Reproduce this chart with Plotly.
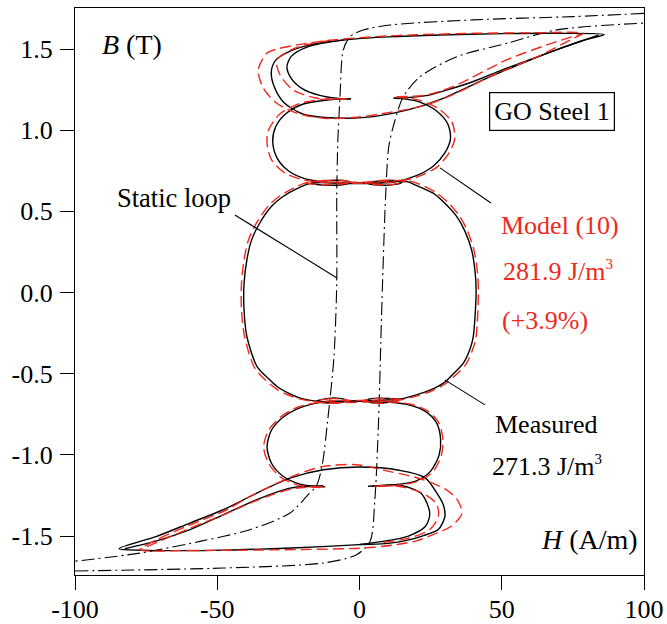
import plotly.graph_objects as go

# ---------------- data (H in A/m, B in T) ----------------
# Static loop (dash-dot)
static_desc_H = [100, 75, 40, 10.7, 1.3, -3.3, -5.7, -6.9, -7.6, -8.0, -8.0, -9.0, -11.2, -13.0, -15.0, -18.6, -24.4, -38.5, -56.1, -77.2, -100]
static_desc_B = [1.72, 1.70, 1.68, 1.648, 1.617, 1.577, 1.494, 1.186, 0.94, 0.60, 0.06, -0.40, -0.79, -1.05, -1.184, -1.256, -1.358, -1.461, -1.533, -1.605, -1.655]
static_asc_H = [-100, -47.9, -12.7, -1.0, 3.7, 5.4, 6.7, 7.5, 8.1, 9.2, 10.3, 12.5, 15.4, 21.3, 34.2, 51.7, 69.3, 100]
static_asc_B = [-1.715, -1.697, -1.666, -1.615, -1.533, -1.276, -0.79, -0.30, 0.06, 0.60, 0.90, 1.063, 1.207, 1.33, 1.453, 1.535, 1.618, 1.66]

# Measured (black solid)
meas_top_outer_H = [86, 70, 50, 28, 10, -3, -15, -24, -29.5, -31, -30, -26.5, -20, -12, -4, 5, 17, 28, 46, 63, 78, 86]
meas_top_outer_B = [1.59, 1.597, 1.595, 1.587, 1.575, 1.56, 1.535, 1.49, 1.43, 1.36, 1.27, 1.17, 1.1, 1.078, 1.074, 1.084, 1.125, 1.187, 1.33, 1.453, 1.55, 1.59]
meas_top_inner_H = [-5, -18, -24, -25.5, -24, -20, -14, -8, -3]
meas_top_inner_B = [1.558, 1.515, 1.455, 1.39, 1.32, 1.255, 1.215, 1.197, 1.193]
meas_top_right_H = [12, 16, 24, 33, 40, 50, 58, 70, 84]
meas_top_right_B = [1.197, 1.2, 1.215, 1.26, 1.30, 1.37, 1.422, 1.5, 1.585]
meas_up_circ_H = [-3, -12, -20, -26, -29.5, -30.5, -29, -25, -19, -12, -4, 4, 12, 20, 26, 30, 32, 31, 27, 21, 15, 12]
meas_up_circ_B = [1.193, 1.185, 1.16, 1.1, 1.02, 0.93, 0.83, 0.75, 0.7, 0.68, 0.672, 0.672, 0.68, 0.72, 0.78, 0.86, 0.95, 1.04, 1.12, 1.175, 1.195, 1.197]
meas_center_H = [-17, -22, -27, -31, -35, -38, -39.6, -40.6, -40.6, -39.6, -36, -32, -29, -25, -20.9, -14, -5, 5, 14.2, 20, 25, 29.5, 33, 36.5, 39, 40, 41, 40.5, 39.4, 37, 34.2, 30, 25.9, 20, 16.6, 8, 0, -8, -17]
meas_center_B = [0.674, 0.64, 0.59, 0.53, 0.43, 0.32, 0.2, 0.05, -0.1, -0.27, -0.456, -0.53, -0.579, -0.62, -0.65, -0.671, -0.672, -0.665, -0.656, -0.63, -0.6, -0.558, -0.5, -0.435, -0.34, -0.27, 0.017, 0.15, 0.263, 0.38, 0.468, 0.55, 0.612, 0.66, 0.684, 0.68, 0.675, 0.675, 0.674]
meas_lo_circ_H = [3, 12, 20, 25, 28, 28.5, 27, 23, 17, 10, 3, -5, -13, -21, -27, -31, -32.5, -31, -27, -21, -15, -12]
meas_lo_circ_B = [-1.193, -1.185, -1.16, -1.1, -1.0, -0.9, -0.8, -0.73, -0.69, -0.675, -0.668, -0.668, -0.675, -0.71, -0.77, -0.85, -0.95, -1.05, -1.13, -1.18, -1.195, -1.197]
meas_bot_outer_H = [-84.5, -74, -52, -24, 0, 10, 17, 22, 27.7, 30, 29.5, 27.7, 23, 14, 0, -12.7, -24.4, -36.1, -47.9, -59.6, -71.3, -84.5]
meas_bot_outer_B = [-1.578, -1.588, -1.588, -1.574, -1.553, -1.545, -1.525, -1.5, -1.46, -1.38, -1.31, -1.25, -1.14, -1.095, -1.075, -1.092, -1.143, -1.235, -1.338, -1.42, -1.502, -1.578]
meas_bot_inner_H = [0, 8.2, 17.2, 23.2, 24.7, 21.7, 14.2, 4.5]
meas_bot_inner_B = [-1.552, -1.533, -1.50, -1.44, -1.36, -1.238, -1.187, -1.193]
meas_bot_left_H = [-12.7, -24.4, -36.1, -47.9, -59.6, -71.3, -82.5]
meas_bot_left_B = [-1.19, -1.205, -1.276, -1.369, -1.461, -1.53, -1.578]
meas_waist_ul_H = [-17, -12, -6, -3, -6, -12, -17]
meas_waist_ul_B = [0.672, 0.688, 0.69, 0.678, 0.664, 0.662, 0.672]
meas_waist_ur_H = [3, 7, 12, 15, 12, 7, 3]
meas_waist_ur_B = [0.672, 0.688, 0.69, 0.68, 0.665, 0.662, 0.672]
meas_waist_ll_H = [-15, -11, -7, -4.5, -7, -11, -15]
meas_waist_ll_B = [-0.668, -0.652, -0.652, -0.664, -0.678, -0.68, -0.668]
meas_waist_lr_H = [2, 5, 10, 14, 10, 5, 2]
meas_waist_lr_B = [-0.665, -0.652, -0.652, -0.66, -0.676, -0.68, -0.665]

# Model (10) (red dashed)
mod_top_outer_H = [78.7, 60, 40, 20, 4.9, -10, -18.6, -28, -32.6, -35.6, -33.8, -29.1, -22, -12.7, -1, 10.7, 22.4, 34.2, 47, 63.4, 75.2, 78.7]
mod_top_outer_B = [1.597, 1.6, 1.597, 1.588, 1.576, 1.555, 1.535, 1.505, 1.474, 1.371, 1.259, 1.166, 1.105, 1.074, 1.08, 1.11, 1.15, 1.23, 1.34, 1.46, 1.566, 1.597]
mod_top_inner_H = [-10, -22, -29.1, -27.9, -23.3, -15, -4.5]
mod_top_inner_B = [1.555, 1.51, 1.433, 1.34, 1.248, 1.197, 1.193]
mod_top_right_H = [13, 23.6, 34.2, 51.7, 69.3, 78]
mod_top_right_B = [1.207, 1.217, 1.279, 1.433, 1.546, 1.592]
mod_up_circ_H = [-4.5, -13, -21, -28, -32, -32.5, -31, -26.5, -20, -12, -4, 4, 12, 20, 27, 31.5, 33.5, 32.5, 28, 21, 13]
mod_up_circ_B = [1.195, 1.19, 1.165, 1.1, 1.0, 0.92, 0.82, 0.74, 0.695, 0.678, 0.674, 0.674, 0.682, 0.71, 0.77, 0.86, 0.95, 1.05, 1.13, 1.185, 1.205]
mod_center_H = [-18, -23, -28, -32, -36, -39, -40.6, -41.5, -41.5, -40.4, -37, -33, -29.5, -25.5, -21, -14, -5, 5, 14.2, 20.5, 25.5, 30, 34, 37.5, 40, 41, 41.8, 41.3, 40.2, 37.8, 35, 31, 26.5, 21, 17, 8, 0, -8, -18]
mod_center_B = [0.68, 0.645, 0.595, 0.535, 0.435, 0.325, 0.2, 0.05, -0.1, -0.27, -0.46, -0.54, -0.59, -0.628, -0.655, -0.676, -0.678, -0.672, -0.662, -0.635, -0.605, -0.565, -0.505, -0.44, -0.34, -0.27, 0.017, 0.15, 0.263, 0.385, 0.475, 0.557, 0.62, 0.668, 0.69, 0.686, 0.68, 0.68, 0.68]
mod_lo_circ_H = [5.2, 13, 21, 26, 28.8, 29.3, 27.8, 24, 18, 10, 3, -5, -13, -22, -28, -32, -33.7, -32, -28, -22, -15, -12]
mod_lo_circ_B = [-1.193, -1.188, -1.16, -1.1, -1.0, -0.9, -0.8, -0.73, -0.688, -0.672, -0.665, -0.665, -0.672, -0.708, -0.77, -0.85, -0.95, -1.05, -1.135, -1.185, -1.2, -1.2]
mod_bot_outer_H = [-77.2, -60, -30, 0, 12, 20, 26, 32.2, 36, 34.5, 30.7, 22, 10, -1, -12.7, -22.1, -31.5, -39.6, -46.7, -60.7, -71.3, -77.2]
mod_bot_outer_B = [-1.584, -1.589, -1.585, -1.575, -1.555, -1.53, -1.49, -1.44, -1.36, -1.28, -1.217, -1.15, -1.1, -1.061, -1.071, -1.122, -1.195, -1.266, -1.338, -1.44, -1.523, -1.584]
mod_bot_inner_H = [8.4, 18, 24.7, 27.7, 27, 22, 14, 5.2]
mod_bot_inner_B = [-1.54, -1.51, -1.46, -1.38, -1.3, -1.235, -1.195, -1.193]
mod_bot_left_H = [-13, -24, -36, -48, -60, -70, -77.2]
mod_bot_left_B = [-1.195, -1.21, -1.28, -1.37, -1.455, -1.53, -1.584]
mod_waist_ul_H = [-19, -13, -7, -3, -7, -13, -19]
mod_waist_ul_B = [0.674, 0.69, 0.692, 0.68, 0.666, 0.664, 0.674]
mod_waist_ur_H = [2, 7, 12, 16, 12, 7, 2]
mod_waist_ur_B = [0.674, 0.69, 0.692, 0.682, 0.667, 0.664, 0.674]
mod_waist_ll_H = [-16, -11, -7, -3.5, -7, -11, -16]
mod_waist_ll_B = [-0.67, -0.655, -0.655, -0.666, -0.68, -0.682, -0.67]
mod_waist_lr_H = [1, 5, 10, 15, 10, 5, 1]
mod_waist_lr_B = [-0.667, -0.654, -0.654, -0.662, -0.678, -0.682, -0.667]

# Leader lines (annotation pointers)
leader_static_H = [-43.8, -7.9]
leader_static_B = [0.478, 0.09]
leader_model_H = [28.3, 46.2]
leader_model_B = [0.768, 0.552]
leader_meas_H = [30.0, 44.1]
leader_meas_B = [-0.538, -0.692]

x_ticks = [-100, -50, 0, 50, 100]
x_ticktext = ["-100", "-50", "0", "50", "100"]
y_ticks = [-1.5, -1.0, -0.5, 0.0, 0.5, 1.0, 1.5]
y_ticktext = ["-1.5", "-1.0", "-0.5", "0.0", "0.5", "1.0", "1.5"]

FONT = "Liberation Serif, Times New Roman, serif"
RED = "#f0281c"

fig = go.Figure()

def add(h, b, color, width, dash):
    fig.add_trace(go.Scatter(x=h, y=b, mode="lines",
                             line=dict(color=color, width=width, dash=dash, shape="spline", smoothing=0.8),
                             hoverinfo="skip", showlegend=False))

static_dash = "13px,4px,2px,4px"
add(static_desc_H, static_desc_B, "black", 1.1, static_dash)
add(static_asc_H, static_asc_B, "black", 1.1, static_dash)

meas = [
    (meas_top_outer_H, meas_top_outer_B), (meas_top_inner_H, meas_top_inner_B),
    (meas_top_right_H, meas_top_right_B), (meas_up_circ_H, meas_up_circ_B),
    (meas_center_H, meas_center_B), (meas_lo_circ_H, meas_lo_circ_B),
    (meas_bot_outer_H, meas_bot_outer_B), (meas_bot_inner_H, meas_bot_inner_B),
    (meas_bot_left_H, meas_bot_left_B),
    (meas_waist_ul_H, meas_waist_ul_B), (meas_waist_ur_H, meas_waist_ur_B),
    (meas_waist_ll_H, meas_waist_ll_B), (meas_waist_lr_H, meas_waist_lr_B),
]
for h, b in meas:
    add(h, b, "black", 1.4, "solid")

mods = [
    (mod_top_outer_H, mod_top_outer_B), (mod_top_inner_H, mod_top_inner_B),
    (mod_top_right_H, mod_top_right_B), (mod_up_circ_H, mod_up_circ_B),
    (mod_center_H, mod_center_B), (mod_lo_circ_H, mod_lo_circ_B),
    (mod_bot_outer_H, mod_bot_outer_B), (mod_bot_inner_H, mod_bot_inner_B),
    (mod_bot_left_H, mod_bot_left_B),
    (mod_waist_ul_H, mod_waist_ul_B), (mod_waist_ur_H, mod_waist_ur_B),
    (mod_waist_ll_H, mod_waist_ll_B), (mod_waist_lr_H, mod_waist_lr_B),
]
for h, b in mods:
    add(h, b, RED, 1.4, "11px,5px")

for h, b in [(leader_static_H, leader_static_B), (leader_model_H, leader_model_B), (leader_meas_H, leader_meas_B)]:
    fig.add_trace(go.Scatter(x=h, y=b, mode="lines", line=dict(color="black", width=1.1),
                             hoverinfo="skip", showlegend=False))

def ann(text, x, y, color="black", xanchor="left", size=26, **kw):
    fig.add_annotation(text=text, x=x, y=y, xref="x", yref="y", showarrow=False,
                       xanchor=xanchor, yanchor="middle",
                       font=dict(family=FONT, size=size, color=color), **kw)

SUP3 = "<sup><span style='font-size:15px'>3</span></sup>"
ann("<i>B</i> (T)", -91.2, 1.53, size=28)
ann("<i>H</i> (A/m)", 98.6, -1.52, xanchor="right", size=28)
ann("GO Steel 1", 67.5, 1.116, xanchor="center", bordercolor="black", borderwidth=1.2, borderpad=4, bgcolor="white")
ann("Static loop", -65.2, 0.58, xanchor="center", size=26.5)
ann("Model (10)", 49.0, 0.415, color=RED)
ann("281.9 J/m" + SUP3, 49.8, 0.13, color=RED)
ann("(+3.9%)", 49.4, -0.17, color=RED)
ann("Measured", 47.0, -0.81)
ann("271.3 J/m" + SUP3, 45.9, -1.07)

axis_common = dict(showgrid=False, zeroline=False, showline=True, mirror=True,
                   linecolor="black", linewidth=1.2, ticks="outside", ticklen=14,
                   tickwidth=1.2, tickcolor="black", automargin=False,
                   tickfont=dict(family=FONT, size=26, color="black"))

fig.update_xaxes(range=[-100, 100], tickvals=x_ticks, ticktext=x_ticktext,
                 ticklabelstandoff=-3, **axis_common)
fig.update_yaxes(range=[-1.74, 1.753], tickvals=y_ticks, ticktext=y_ticktext,
                 ticklabelstandoff=2, **axis_common)

fig.update_layout(width=667, height=624, margin=dict(l=75, r=23, t=8, b=49, autoexpand=False),
                  paper_bgcolor="white", plot_bgcolor="white", showlegend=False)

fig.write_html("out.html", config={"displayModeBar": False})
